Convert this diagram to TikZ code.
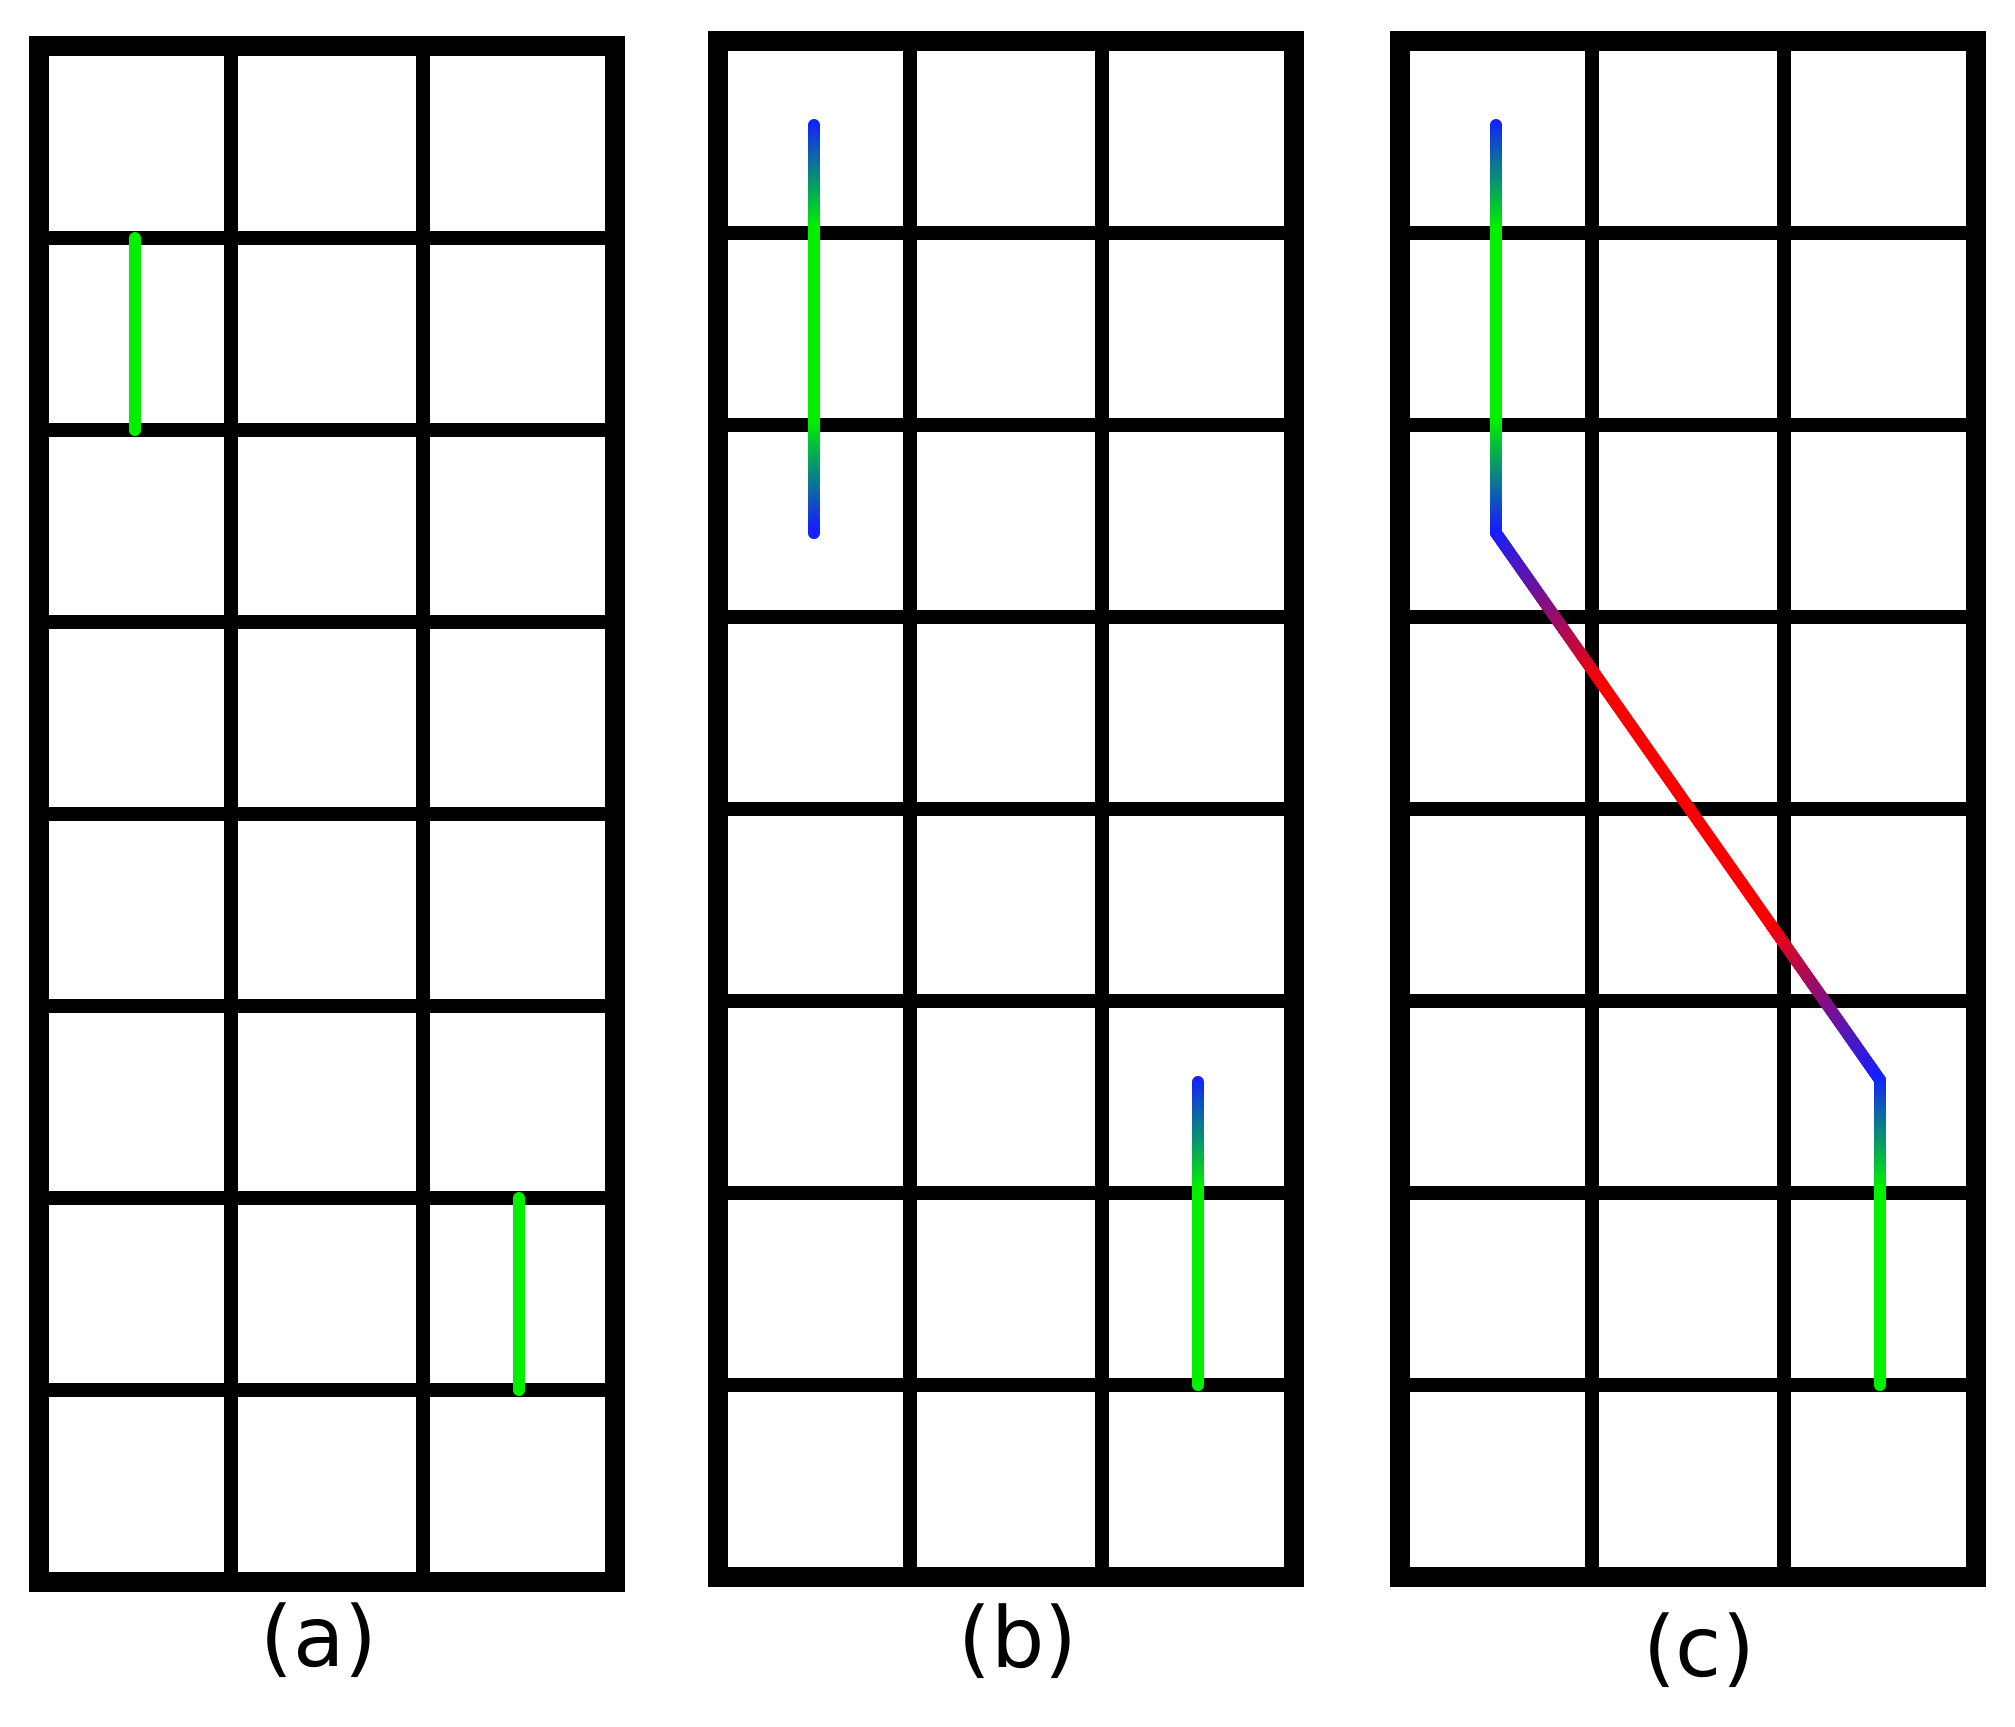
\documentclass[tikz,border=0pt]{standalone}
\usepackage{fontspec}
\newfontfamily\lblfont{DejaVu Sans}
\usetikzlibrary{calc}
\definecolor{gblue}{RGB}{20,30,255}
\definecolor{ggreen}{RGB}{0,240,0}
\definecolor{gred}{RGB}{250,0,0}
\tikzset{
  gridline/.style={line width=6.8pt, black},
  frameline/.style={line width=10pt, black, line join=miter},
  colline/.style={line width=6pt, line cap=round},
  lbl/.style={font=\lblfont\fontsize{42}{50}\selectfont, inner sep=0pt, anchor=center},
}
\newcommand\gradseg[5]{%
  \foreach \i in {1,...,#5}{%
    \pgfmathsetmacro\ta{(\i-1)/#5}%
    \pgfmathsetmacro\tb{\i/#5}%
    \pgfmathsetmacro\pc{100*(\i-0.5)/#5}%
    \draw[colline, draw=#4!\pc!#3] ($(#1)!\ta!(#2)$) -- ($(#1)!\tb!(#2)$);
  }}
\begin{document}
\begin{tikzpicture}[x=0.5pt, y=-0.5pt]
\fill[white] (0,0) rectangle (2015,1726);
\useasboundingbox (0,0) rectangle (2015,1726);
% grids
\foreach \gx/\gy in {39/46, 718/41, 1400/41}{
  \begin{scope}[shift={(\gx,\gy)}]
    \foreach \k in {1,2} \draw[gridline] (192*\k,0) -- (192*\k,1536);
    \foreach \k in {1,...,7} \draw[gridline] (0,192*\k) -- (576,192*\k);
    \draw[frameline] (0,0) rectangle (576,1536);
  \end{scope}
}
% (a)
\coordinate (a1) at (135,238);
\coordinate (a2) at (135,430);
\coordinate (a3) at (519,1198);
\coordinate (a4) at (519,1390);
\draw[colline, ggreen] (a1) -- (a2);
\draw[colline, ggreen] (a3) -- (a4);
% (b)
\coordinate (b1) at (814,125);
\coordinate (b2) at (814,233);
\coordinate (b3) at (814,425);
\coordinate (b4) at (814,533);
\gradseg{b1}{b2}{gblue}{ggreen}{30}
\draw[colline, ggreen] (b2) -- (b3);
\gradseg{b3}{b4}{ggreen}{gblue}{30}
\coordinate (b5) at (1198,1082);
\coordinate (b6) at (1198,1193);
\coordinate (b7) at (1198,1385);
\gradseg{b5}{b6}{gblue}{ggreen}{30}
\draw[colline, ggreen] (b6) -- (b7);
% (c)
\coordinate (c1) at (1496,125);
\coordinate (c2) at (1496,233);
\coordinate (c3) at (1496,425);
\coordinate (c4) at (1496,533);
\coordinate (c5) at (1880,1080);
\coordinate (c6) at (1880,1193);
\coordinate (c7) at (1880,1385);
\coordinate (d1) at ($(c4)!0.28!(c5)$);
\coordinate (d2) at ($(c4)!0.72!(c5)$);
\gradseg{c1}{c2}{gblue}{ggreen}{30}
\draw[colline, ggreen] (c2) -- (c3);
\gradseg{c3}{c4}{ggreen}{gblue}{30}
\gradseg{c4}{d1}{gblue}{gred}{40}
\draw[colline, gred] (d1) -- (d2);
\gradseg{d2}{c5}{gred}{gblue}{40}
\gradseg{c5}{c6}{gblue}{ggreen}{30}
\draw[colline, ggreen] (c6) -- (c7);
% labels
\node[lbl] (la) at (319,1640) {(a)};
\node[lbl] (lb) at (1018,1641) {(b)};
\node[lbl] (lc) at (1699,1650) {(c)};
\end{tikzpicture}
\end{document}
